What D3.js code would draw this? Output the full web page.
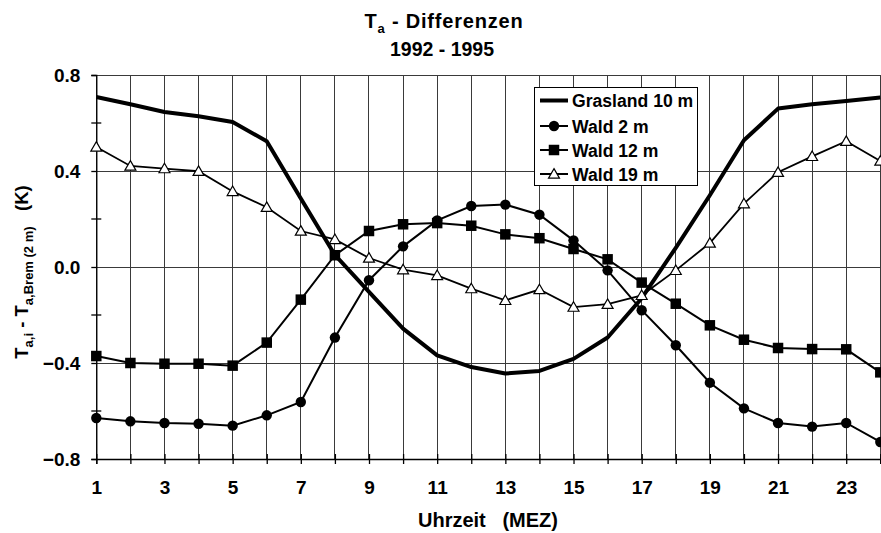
<!DOCTYPE html>
<html>
<head>
<meta charset="utf-8">
<script src="https://cdn.jsdelivr.net/npm/d3@7"></script>
<style>
html,body{margin:0;padding:0;background:#fff;}
text{font-family:"Liberation Sans",Arial,sans-serif;font-weight:bold;fill:#000;}
</style>
</head>
<body>
<svg id="chart" width="881" height="533"></svg>
<script>
const hours = d3.range(1, 25);
const grasland10 = [0.708,0.678,0.646,0.628,0.604,0.524,0.285,0.05,-0.104,-0.257,-0.368,-0.417,-0.444,-0.433,-0.383,-0.294,-0.13,0.08,0.299,0.528,0.66,0.678,0.692,0.706];
const wald2 = [-0.629,-0.643,-0.65,-0.653,-0.661,-0.618,-0.5625,-0.294,-0.055,0.086,0.194,0.254,0.26,0.218,0.111,-0.014,-0.18,-0.326,-0.482,-0.589,-0.65,-0.665,-0.65,-0.729];
const wald12 = [-0.371,-0.4,-0.403,-0.403,-0.411,-0.315,-0.136,0.049,0.15,0.178,0.183,0.172,0.136,0.12,0.075,0.032,-0.065,-0.153,-0.243,-0.303,-0.3375,-0.342,-0.343,-0.439];
const wald19 = [0.5,0.421,0.41,0.399,0.315,0.249,0.15,0.115,0.0375,-0.011,-0.035,-0.09,-0.139,-0.094,-0.167,-0.155,-0.118,-0.014,0.1,0.264,0.395,0.461,0.524,0.442];
const seriesNames = ["Grasland 10 m","Wald 2 m","Wald 12 m","Wald 19 m"];
const xTickLabels = [1,3,5,7,9,11,13,15,17,19,21,23];
const yMajorTicks = [-0.8,-0.4,0.0,0.4,0.8];
const yMinorTicks = [-0.6,-0.2,0.2,0.6];

const svg = d3.select("#chart");
const x = d3.scaleLinear().domain([1,24]).range([96.3,880.3]);
const y = d3.scaleLinear().domain([-0.8,0.8]).range([459,75]);

// grid
const g = svg.append("g");
g.selectAll(".vg").data(hours).enter().append("line")
  .attr("x1",d=>x(d)).attr("x2",d=>x(d)).attr("y1",y(0.8)).attr("y2",y(-0.8))
  .attr("stroke","#3a3a3a").attr("stroke-width",1).attr("shape-rendering","crispEdges");
g.selectAll(".hg").data(yMajorTicks).enter().append("line")
  .attr("x1",x(1)).attr("x2",x(24)).attr("y1",d=>y(d)).attr("y2",d=>y(d))
  .attr("stroke","#3a3a3a").attr("stroke-width",1).attr("shape-rendering","crispEdges");

// axes
const yAxis = d3.axisLeft(y).tickValues(yMajorTicks).tickSize(5).tickPadding(11);
const ya = svg.append("g").attr("transform",`translate(${x(1)},0)`).call(yAxis);
ya.select(".domain").attr("stroke","#000").attr("stroke-width",1.3);
ya.selectAll(".tick line").attr("stroke","#000").attr("stroke-width",1.3);
ya.selectAll("text").style("font-size","19px").style("font-family","'Liberation Sans',Arial,sans-serif").style("font-weight","bold");
ya.selectAll(".tick text").text(d => Math.abs(d) < 1e-9 ? "0.0" : d3.format(".1f")(d));
svg.append("g").selectAll("line").data(yMinorTicks).enter().append("line")
  .attr("x1",x(1)-5).attr("x2",x(1)+5).attr("y1",d=>y(d)).attr("y2",d=>y(d))
  .attr("stroke","#000").attr("stroke-width",1.3);

const xAxis = d3.axisBottom(x).tickValues(hours).tickFormat(d => xTickLabels.includes(d) ? d : "").tickSize(5).tickPadding(17);
const xa = svg.append("g").attr("transform",`translate(0,${y(-0.8)})`).call(xAxis);
xa.select(".domain").attr("stroke","#000").attr("stroke-width",1.3);
xa.selectAll(".tick line").attr("stroke","#000").attr("stroke-width",1.3).attr("y1",-5);
xa.selectAll("text").style("font-size","19px").style("font-family","'Liberation Sans',Arial,sans-serif").style("font-weight","bold");

// lines
const line = d3.line().x((d,i)=>x(hours[i])).y(d=>y(d));
svg.append("path").datum(grasland10).attr("d",line).attr("fill","none").attr("stroke","#000").attr("stroke-width",4).attr("stroke-linejoin","round");
svg.append("path").datum(wald2).attr("d",line).attr("fill","none").attr("stroke","#000").attr("stroke-width",2);
svg.append("path").datum(wald12).attr("d",line).attr("fill","none").attr("stroke","#000").attr("stroke-width",2);
svg.append("path").datum(wald19).attr("d",line).attr("fill","none").attr("stroke","#000").attr("stroke-width",1.8);

const circ = d3.symbol().type(d3.symbolCircle).size(Math.PI*5.2*5.2);
const sq = d3.symbol().type(d3.symbolSquare).size(10.5*10.5);
const tri = d3.symbol().type(d3.symbolTriangle).size(52);

svg.append("g").selectAll("path").data(wald2).enter().append("path")
  .attr("d",circ).attr("transform",(d,i)=>`translate(${x(hours[i])},${y(d)})`).attr("fill","#000");
svg.append("g").selectAll("path").data(wald12).enter().append("path")
  .attr("d",sq).attr("transform",(d,i)=>`translate(${x(hours[i])},${y(d)})`).attr("fill","#000");
svg.append("g").selectAll("path").data(wald19).enter().append("path")
  .attr("d",tri).attr("transform",(d,i)=>`translate(${x(hours[i])},${y(d)+1})`).attr("fill","#fff").attr("stroke","#000").attr("stroke-width",1.2);

// legend
const lg = svg.append("g").attr("transform","translate(534.5,87.5)");
lg.append("rect").attr("width",163).attr("height",98).attr("fill","#fff").attr("stroke","#000").attr("stroke-width",1);
const rowsY = [13,38.5,62.5,86.5];
const syms = [null, circ, sq, tri];
seriesNames.forEach((name,i)=>{
  const ry = rowsY[i];
  lg.append("line").attr("x1",5.5).attr("x2",33.5).attr("y1",ry).attr("y2",ry)
    .attr("stroke","#000").attr("stroke-width", i===0?4:2);
  if (syms[i]) {
    lg.append("path").attr("d",syms[i]).attr("transform",`translate(19.5,${ry + (i===3?1:0)})`)
      .attr("fill", i===3?"#fff":"#000").attr("stroke", i===3?"#000":"none").attr("stroke-width",1.2);
  }
  lg.append("text").attr("x",37.5).attr("y",ry+6.5).style("font-size","17.6px").text(name);
});

// title
const t = svg.append("text").attr("x",444).attr("y",28).attr("text-anchor","middle").style("font-size","20px").style("letter-spacing","0.8px");
t.append("tspan").text("T");
t.append("tspan").attr("dy",5).style("font-size","13px").text("a");
t.append("tspan").attr("dy",-5).text(" - Differenzen");
svg.append("text").attr("x",442).attr("y",56).attr("text-anchor","middle").style("font-size","19.5px").text("1992 - 1995");

// x label
svg.append("text").attr("x",488).attr("y",527).attr("text-anchor","middle").style("font-size","20px")
  .attr("xml:space","preserve").style("white-space","pre").text("Uhrzeit   (MEZ)");

// y label
const yl = svg.append("text").attr("transform","translate(28,272) rotate(-90)").attr("text-anchor","middle")
  .style("font-size","18.5px").style("white-space","pre");
yl.append("tspan").text("T");
yl.append("tspan").attr("dy",5).style("font-size","13px").text("a,i");
yl.append("tspan").attr("dy",-5).text(" - T");
yl.append("tspan").attr("dy",5).style("font-size","13px").text("a,Brem (2 m)");
yl.append("tspan").attr("dy",-5).text("   (K)");
</script>
</body>
</html>
